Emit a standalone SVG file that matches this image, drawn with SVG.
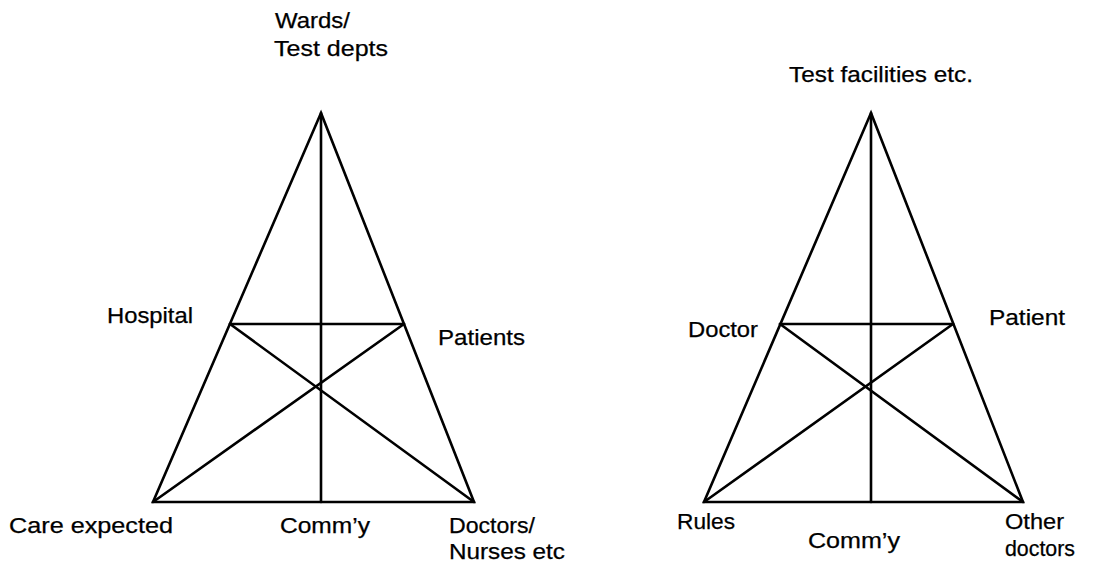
<svg xmlns="http://www.w3.org/2000/svg" width="1093" height="566" viewBox="0 0 1093 566">
  <style>
    .ln { stroke: #000; stroke-width: 2.6; fill: none; stroke-linejoin: miter; stroke-linecap: round; }
    .lb { font-family: "Liberation Sans", Arial, sans-serif; font-size: 21.5px; fill: #000; stroke: #000; stroke-width: 0.25; }
  </style>
  <rect width="1093" height="566" fill="#fff"/>

  <!-- Connectors: the two triangles with their cross-bracing -->
  <g id="connectors">
    <g id="left-frame">
      <path class="ln" d="M321,113 L153,502 L474,502 Z"/>
      <line class="ln" x1="321" y1="113" x2="321" y2="502"/>
      <line class="ln" x1="230" y1="324" x2="404" y2="324"/>
      <line class="ln" x1="230" y1="324" x2="474" y2="502"/>
      <line class="ln" x1="404" y1="324" x2="153" y2="502"/>
    </g>
    <g id="right-frame">
      <path class="ln" d="M871,113 L704,502 L1023,502 Z"/>
      <line class="ln" x1="871" y1="113" x2="871" y2="502"/>
      <line class="ln" x1="780" y1="324" x2="953" y2="324"/>
      <line class="ln" x1="780" y1="324" x2="1023" y2="502"/>
      <line class="ln" x1="953" y1="324" x2="704" y2="502"/>
    </g>
  </g>

  <!-- Left triangle labels -->
  <g id="wards">
    <text class="lb" x="275" y="28" textLength="75" lengthAdjust="spacingAndGlyphs">Wards/</text>
    <text class="lb" x="274" y="56" textLength="114" lengthAdjust="spacingAndGlyphs">Test depts</text>
  </g>
  <g id="hospital">
    <text class="lb" x="107" y="323" textLength="86" lengthAdjust="spacingAndGlyphs">Hospital</text>
  </g>
  <g id="patients">
    <text class="lb" x="438" y="345" textLength="87" lengthAdjust="spacingAndGlyphs">Patients</text>
  </g>
  <g id="care-expected">
    <text class="lb" x="9" y="533" textLength="164" lengthAdjust="spacingAndGlyphs">Care expected</text>
  </g>
  <g id="community-left">
    <text class="lb" x="280" y="533" textLength="90" lengthAdjust="spacingAndGlyphs">Comm’y</text>
  </g>
  <g id="doctors-nurses">
    <text class="lb" x="449" y="533" textLength="86" lengthAdjust="spacingAndGlyphs">Doctors/</text>
    <text class="lb" x="449" y="559" textLength="116" lengthAdjust="spacingAndGlyphs">Nurses etc</text>
  </g>

  <!-- Right triangle labels -->
  <g id="test-facilities">
    <text class="lb" x="789" y="82" textLength="184" lengthAdjust="spacingAndGlyphs">Test facilities etc.</text>
  </g>
  <g id="doctor">
    <text class="lb" x="688" y="337" textLength="70" lengthAdjust="spacingAndGlyphs">Doctor</text>
  </g>
  <g id="patient">
    <text class="lb" x="989" y="325" textLength="76" lengthAdjust="spacingAndGlyphs">Patient</text>
  </g>
  <g id="rules">
    <text class="lb" x="677" y="529" textLength="58" lengthAdjust="spacingAndGlyphs">Rules</text>
  </g>
  <g id="community-right">
    <text class="lb" x="808" y="548" textLength="92" lengthAdjust="spacingAndGlyphs">Comm’y</text>
  </g>
  <g id="other-doctors">
    <text class="lb" x="1005" y="529" textLength="59" lengthAdjust="spacingAndGlyphs">Other</text>
    <text class="lb" x="1005" y="556" textLength="70" lengthAdjust="spacingAndGlyphs">doctors</text>
  </g>
</svg>
